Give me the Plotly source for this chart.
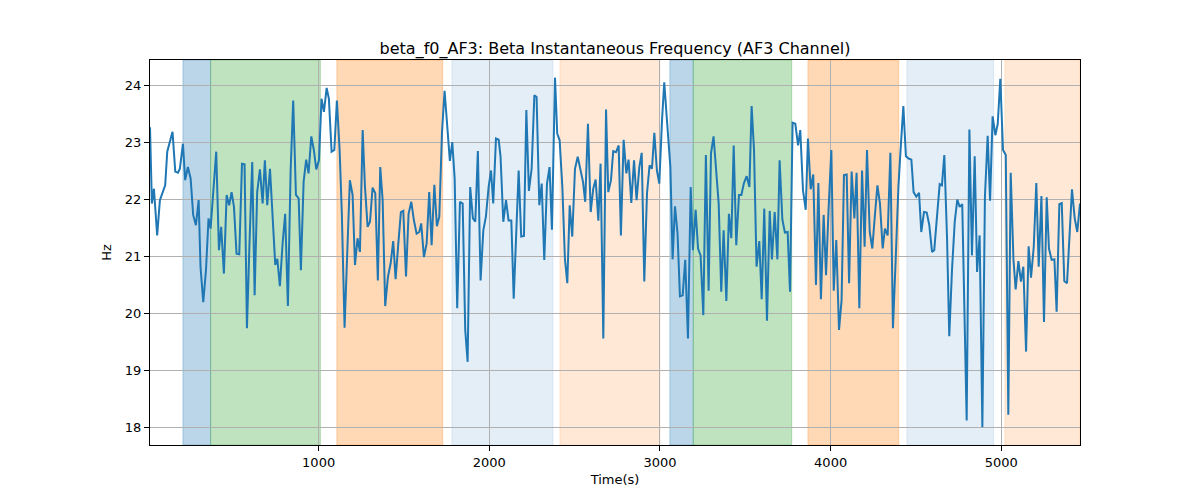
import plotly.graph_objects as go

time_s = [12, 23, 35, 54, 70, 86, 101, 113, 129, 144, 160, 176, 187, 205, 218, 234, 250, 265, 281, 297,
          308, 324, 340, 355, 367, 383, 400, 416, 429, 445, 461, 476, 490, 504, 519, 535, 551, 566, 580, 595,
          611, 625, 640, 656, 672, 685,
          699, 715, 730, 746, 758, 773, 789, 804, 820, 836, 851, 867, 883, 896, 912, 927, 941, 957, 972, 986,
          1002, 1017, 1031, 1047, 1060, 1076, 1092, 1107, 1123, 1136, 1152, 1168, 1183, 1199, 1213, 1228, 1242,
          1258, 1271, 1287, 1301, 1316, 1332, 1347, 1361,
          1375, 1390, 1406, 1422, 1437, 1451, 1467, 1482, 1496, 1512, 1527, 1543, 1558, 1574, 1590, 1601, 1617,
          1633, 1648, 1662, 1678, 1693, 1707, 1723, 1738, 1754, 1769, 1783, 1797, 1812, 1828, 1844, 1859, 1873,
          1888, 1904, 1918, 1933, 1949, 1965, 1980, 1996, 2010, 2023, 2039, 2055,
          2066, 2082, 2098, 2113, 2129, 2143, 2158, 2172, 2187, 2203, 2217, 2232, 2248, 2264, 2277, 2293, 2307,
          2322, 2338, 2353, 2367, 2385, 2398, 2412, 2428, 2443, 2457, 2471, 2486, 2502, 2518, 2533, 2549, 2562,
          2578, 2594, 2609, 2623, 2639, 2652, 2668, 2684, 2697, 2713, 2726, 2742,
          2758, 2771, 2787, 2803, 2816, 2832, 2848, 2863, 2879, 2893, 2908, 2924, 2939, 2953, 2967, 2982, 2996,
          3012, 3025, 3041, 3061, 3074, 3088, 3103, 3117, 3133, 3148, 3164, 3180, 3193, 3209, 3223, 3238, 3254,
          3269, 3285, 3299, 3314, 3328, 3344, 3359, 3373, 3389, 3404, 3418,
          3432, 3447, 3463, 3477, 3492, 3508, 3524, 3537, 3551, 3566, 3582, 3596, 3611, 3627, 3643, 3656, 3672,
          3688, 3701, 3717, 3732, 3748, 3762, 3777, 3793, 3809, 3822, 3838, 3854, 3867, 3883, 3898, 3914, 3928,
          3943, 3959, 3973, 3988, 4004, 4018, 4033, 4049, 4064, 4078,
          4094, 4108, 4123, 4139, 4152, 4168, 4184, 4199, 4213, 4229, 4244, 4260, 4274, 4289, 4305, 4318, 4334,
          4350, 4365, 4381, 4397, 4410, 4426, 4441, 4457, 4473, 4486, 4502, 4518, 4531, 4547, 4563, 4578, 4594,
          4607, 4623, 4639, 4652, 4666, 4682, 4695, 4711, 4727, 4742, 4756, 4771,
          4797, 4813, 4828, 4844, 4858, 4873, 4889, 4904, 4920, 4934, 4949, 4965, 4979, 4994, 5010, 5026, 5041,
          5055, 5071, 5084, 5100, 5115, 5129, 5145, 5160, 5174, 5190, 5205, 5219, 5235, 5250, 5266, 5279, 5295,
          5311, 5324, 5340, 5354, 5369, 5385, 5401, 5414, 5430, 5445, 5461]

freq_hz = [23.27, 21.93, 22.19, 21.37, 21.99, 22.11, 22.25, 22.84, 23.01, 23.19, 22.49, 22.47, 22.54, 22.98,
           22.34, 22.57, 22.37, 21.73, 21.55, 21.99, 20.82, 20.20, 20.76, 21.67, 21.49, 22.11, 22.84, 21.11,
           21.52, 20.70, 22.08, 21.90, 22.13, 21.87, 21.05, 21.04, 22.63, 22.62, 19.74, 21.23, 22.66, 20.32,
           22.13, 22.53, 21.93, 22.69,
           21.90, 22.54, 21.64, 20.85, 20.96, 20.48, 21.23, 21.75, 20.13, 22.51, 23.74, 22.08, 22.02, 20.76,
           22.31, 22.70, 22.46, 23.11, 22.87, 22.53, 22.69, 23.77, 23.54, 23.96, 23.77, 22.84, 22.87, 23.74,
           22.87, 21.75, 19.75, 21.11, 22.34, 22.08, 20.85, 21.32, 21.08, 23.22, 22.25, 21.52, 21.61, 22.21,
           22.11, 20.58, 22.57,
           21.99, 20.13, 20.64, 20.88, 21.27, 20.60, 21.23, 21.78, 21.80, 20.65, 21.75, 21.96, 21.64, 21.40,
           21.43, 21.58, 20.99, 21.23, 22.13, 21.20, 22.26, 21.53, 21.70, 23.19, 23.91, 23.25, 22.68, 23.01,
           22.37, 20.09, 21.96, 21.93, 19.71, 19.15, 22.22, 21.67, 21.61, 22.85, 20.58, 21.46, 21.70, 22.22,
           22.51, 21.93, 23.07, 23.05,
           22.75, 21.61, 21.99, 21.63, 21.63, 20.26, 21.46, 22.51, 21.35, 21.36, 23.57, 22.15, 22.54, 23.83,
           23.80, 21.90, 22.28, 20.94, 22.28, 22.57, 21.47, 24.14, 23.16, 23.04, 22.22, 20.96, 20.53, 21.90,
           21.35, 22.54, 22.75, 22.54, 22.31, 21.96, 23.33, 21.78, 22.19, 22.35, 21.63, 22.63, 19.56, 23.58,
           22.13, 22.34, 22.85, 22.83,
           22.95, 21.37, 23.05, 22.46, 22.70, 21.94, 22.69, 21.99, 22.57, 22.82, 20.56, 22.11, 22.60, 22.54,
           23.17, 22.51, 22.28, 23.39, 24.06, 23.39, 22.57, 20.95, 21.88, 21.40, 20.30, 20.32, 20.94, 19.56,
           22.22, 21.11, 21.82, 21.14, 21.02, 19.97, 22.78, 20.40, 22.81, 23.11, 22.57, 21.93, 20.38, 21.46,
           20.22, 21.75, 21.32,
           22.95, 21.20, 22.08, 22.08, 22.29, 22.41, 22.22, 23.64, 22.87, 20.82, 21.27, 20.25, 21.84, 19.87,
           21.80, 20.95, 21.78, 20.95, 22.69, 21.65, 21.42, 21.43, 20.38, 23.35, 23.33, 22.95, 23.22, 22.16,
           21.82, 23.07, 22.18, 22.44, 20.50, 22.29, 20.25, 21.73, 20.67, 21.84, 22.87, 20.40, 21.29, 19.71,
           20.23, 22.43,
           22.44, 20.53, 22.49, 21.67, 22.47, 20.09, 22.51, 21.17, 22.87, 21.43, 21.14, 21.75, 22.25, 21.93,
           21.14, 21.49, 21.37, 22.82, 19.74, 20.94, 22.22, 22.89, 23.64, 22.76, 22.72, 22.70, 22.13, 22.05,
           22.12, 21.43, 21.78, 21.77, 21.55, 21.08, 21.11, 21.70, 22.27, 22.25, 22.78, 21.32, 19.60, 20.76,
           21.61, 22.00, 21.87, 21.92,
           18.12, 23.23, 21.02, 22.76, 20.73, 21.37, 18.00, 22.05, 23.12, 21.98, 23.46, 23.13, 23.33, 24.12,
           22.87, 22.78, 18.22, 22.47, 20.95, 20.42, 20.92, 20.56, 20.82, 19.33, 21.18, 20.63, 21.17, 22.29,
           20.82, 22.06, 19.85, 22.04, 21.14, 20.94, 20.95, 20.03, 21.92, 21.94, 20.57, 20.53, 21.46, 22.18,
           21.67, 21.43, 21.93]

span_start = [205, 367, 1107, 1781, 2414, 3058, 3195, 3867, 4447, 5021]
span_end = [367, 1010, 1727, 2373, 3000, 3195, 3772, 4399, 4955, 5461]
span_kind = ["blue", "green", "orange", "lightblue", "lightorange",
             "blue", "green", "orange", "lightblue", "lightorange"]

x_ticks = [1000, 2000, 3000, 4000, 5000]
y_ticks = [18, 19, 20, 21, 22, 23, 24]

kind_color = {
    "blue": (31, 119, 180, 0.3),
    "green": (44, 160, 44, 0.3),
    "orange": (255, 127, 14, 0.3),
    "lightblue": (31, 119, 180, 0.12),
    "lightorange": (255, 127, 14, 0.17),
}

fig = go.Figure()
for s, e, k in zip(span_start, span_end, span_kind):
    r, g, b, a = kind_color[k]
    fig.add_vrect(x0=s, x1=e, fillcolor=f"rgba({r},{g},{b},{a})",
                  line=dict(color=f"rgba({r},{g},{b},{a})", width=1), layer="below")

fig.add_trace(go.Scatter(x=time_s, y=freq_hz, mode="lines",
                         line=dict(color="#1f77b4", width=2), showlegend=False))

axis_common = dict(showline=True, linecolor="black", linewidth=1, mirror=True,
                   ticks="outside", ticklen=5, tickcolor="black", tickwidth=1,
                   showgrid=True, gridcolor="#b0b0b0", gridwidth=1, zeroline=False,
                   tickfont=dict(size=13, color="black"))

# the page adds an 8px body margin; offsets compensate so the axes land where the reference has them
fig.update_layout(
    width=1200, height=500,
    margin=dict(l=142, r=128, t=52, b=63),
    paper_bgcolor="white", plot_bgcolor="white",
    font=dict(family="DejaVu Sans", color="black"),
    title=dict(text="beta_f0_AF3: Beta Instantaneous Frequency (AF3 Channel)",
               x=0.5, xref="paper", xanchor="center",
               y=1, yref="paper", yanchor="bottom", pad=dict(b=6),
               font=dict(size=16, color="black")),
    xaxis=dict(range=[12, 5461], tickvals=x_ticks,
               title=dict(text="Time(s)", font=dict(size=13), standoff=6), **axis_common),
    yaxis=dict(range=[17.69, 24.45], tickvals=y_ticks,
               title=dict(text="Hz", font=dict(size=13), standoff=10), **axis_common),
)

fig.write_html("out.html")
